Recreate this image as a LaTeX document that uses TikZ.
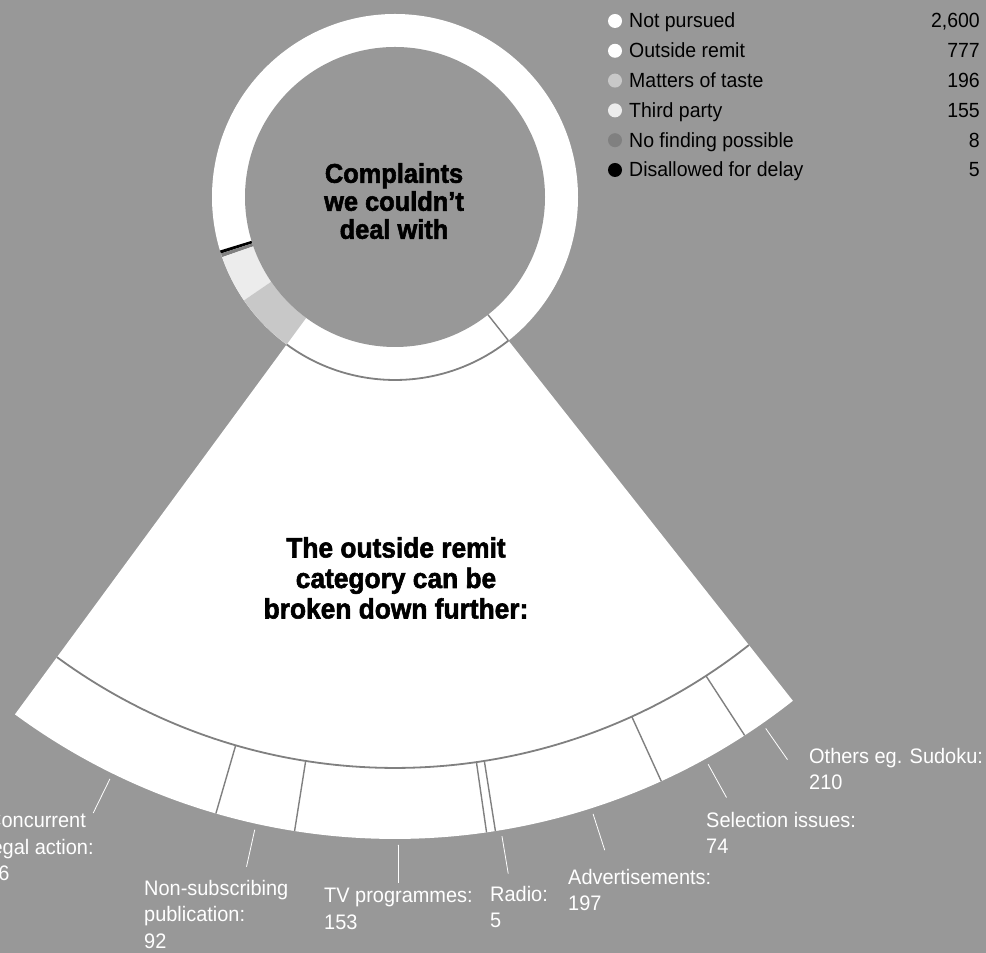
\documentclass[tikz,border=0pt]{standalone}
\usepackage{fontspec}
\setmainfont{Liberation Sans}
\newfontfamily\labfont{Liberation Sans}[FakeStretch=0.95]
\newfontfamily\headfont{Liberation Sans}[FakeStretch=0.94, BoldFeatures={FakeBold=2}]
\usetikzlibrary{calc}
\definecolor{bg}{RGB}{152,152,152}
\definecolor{taste}{RGB}{200,200,200}
\definecolor{third}{RGB}{236,236,236}
\definecolor{nofind}{RGB}{128,128,128}
\definecolor{divline}{RGB}{128,128,128}
\tikzset{
  seg/.style={line width=1.4pt, draw=divline},
  arcline/.style={line width=1.8pt, draw=divline},
  leader/.style={draw=white, line width=0.8pt},
  lab/.style={text=white, anchor=north west, inner sep=0pt, align=left,
    font=\labfont\fontsize{21}{26.5}\selectfont},
  legtext/.style={anchor=base west, inner sep=0pt, font=\labfont\fontsize{20.5}{24}\selectfont},
  legnum/.style={anchor=base east, inner sep=0pt, font=\labfont\fontsize{20.5}{24}\selectfont},
  bullet/.style={circle, inner sep=0pt, minimum size=14pt},
}
\begin{document}
\begin{tikzpicture}[x=1pt,y=1pt]
\useasboundingbox (0,0) rectangle (986,953);
\fill[bg] (0,0) rectangle (986,953);
\coordinate (c) at (395,756);
% fan sector
\fill[white] (c) -- ($(c)+(233.7:642)$) arc[start angle=233.7, end angle=308.3, radius=642] -- cycle;
% ring
\fill[white] (c) circle[radius=183];
\fill[black, shift={(c)}] (197:150) arc[start angle=197, end angle=198, radius=150] -- (198:183) arc[start angle=198, end angle=197, radius=183] -- cycle;
\fill[nofind, shift={(c)}] (198:150) arc[start angle=198, end angle=199.2, radius=150] -- (199.2:183) arc[start angle=199.2, end angle=198, radius=183] -- cycle;
\fill[third, shift={(c)}] (199.2:150) arc[start angle=199.2, end angle=214.4, radius=150] -- (214.4:183) arc[start angle=214.4, end angle=199.2, radius=183] -- cycle;
\fill[taste, shift={(c)}] (214.4:150) arc[start angle=214.4, end angle=233.7, radius=150] -- (233.7:183) arc[start angle=233.7, end angle=214.4, radius=183] -- cycle;
\fill[bg] (c) circle[radius=150];
% ring divider between not pursued and outside remit
\draw[seg] ($(c)+(308.3:150)$) -- ($(c)+(308.3:183)$);
% arcs
\draw[arcline, shift={(c)}] (233.7:183) arc[start angle=233.7, end angle=308.3, radius=183];
\draw[arcline, shift={(c)}] (233.7:571) arc[start angle=233.7, end angle=308.3, radius=571];
% band dividers
\foreach \a in {253.8, 261.0, 278.2, 279.0, 294.5, 303.0} {
  \draw[seg] ($(c)+(\a:571)$) -- ($(c)+(\a:642)$);
}
% leader lines
\foreach \n/\a in {conc/243.9, nonsub/257.5, tv/270.3, radio/279.5, adv/287.8, sel/298.9, oth/304.9} {
  \coordinate (\n s) at ($(c)+(\a:648)$);
  \coordinate (\n e) at ($(c)+(\a:686)$);
  \draw[leader] (\n s) -- (\n e);
}
% titles
\node[anchor=north, inner sep=0pt, align=center, font=\headfont\bfseries\fontsize{27}{28}\selectfont] (title) at (394,790)
  {Complaints\\we couldn’t\\deal with};
\node[anchor=north, inner sep=0pt, align=center, font=\headfont\bfseries\fontsize{28}{30.5}\selectfont] (fantitle) at (396,416)
  {The outside remit\\category can be\\broken down further:};
% labels
\node[lab] (lconc) at (-13,140) {Concurrent\\legal action:\\46};
\node[lab] (lnonsub) at (144,73) {Non-subscribing\\publication:\\92};
\node[lab] (ltv) at (324,65) {TV programmes:\\153};
\node[lab] (lradio) at (490,67) {Radio:\\5};
\node[lab] (ladv) at (568,84) {Advertisements:\\197};
\node[lab] (lsel) at (706,141) {Selection issues:\\74};
\node[lab] (loth) at (809,205) {Others eg. Sudoku:\\210};
% legend
\foreach \i/\col/\txt/\num in {0/white/Not pursued/{2,600}, 1/white/Outside remit/777, 2/taste/Matters of taste/196, 3/third/Third party/155, 4/nofind/No finding possible/8, 5/black/Disallowed for delay/5} {
  \node[bullet, fill=\col] (b\i) at (615, 932-29.8*\i) {};
  \node[legtext] (t\i) at (629, 925-29.8*\i) {\txt};
  \node[legnum] (n\i) at (980, 925-29.8*\i) {\num};
}
\end{tikzpicture}
\end{document}
